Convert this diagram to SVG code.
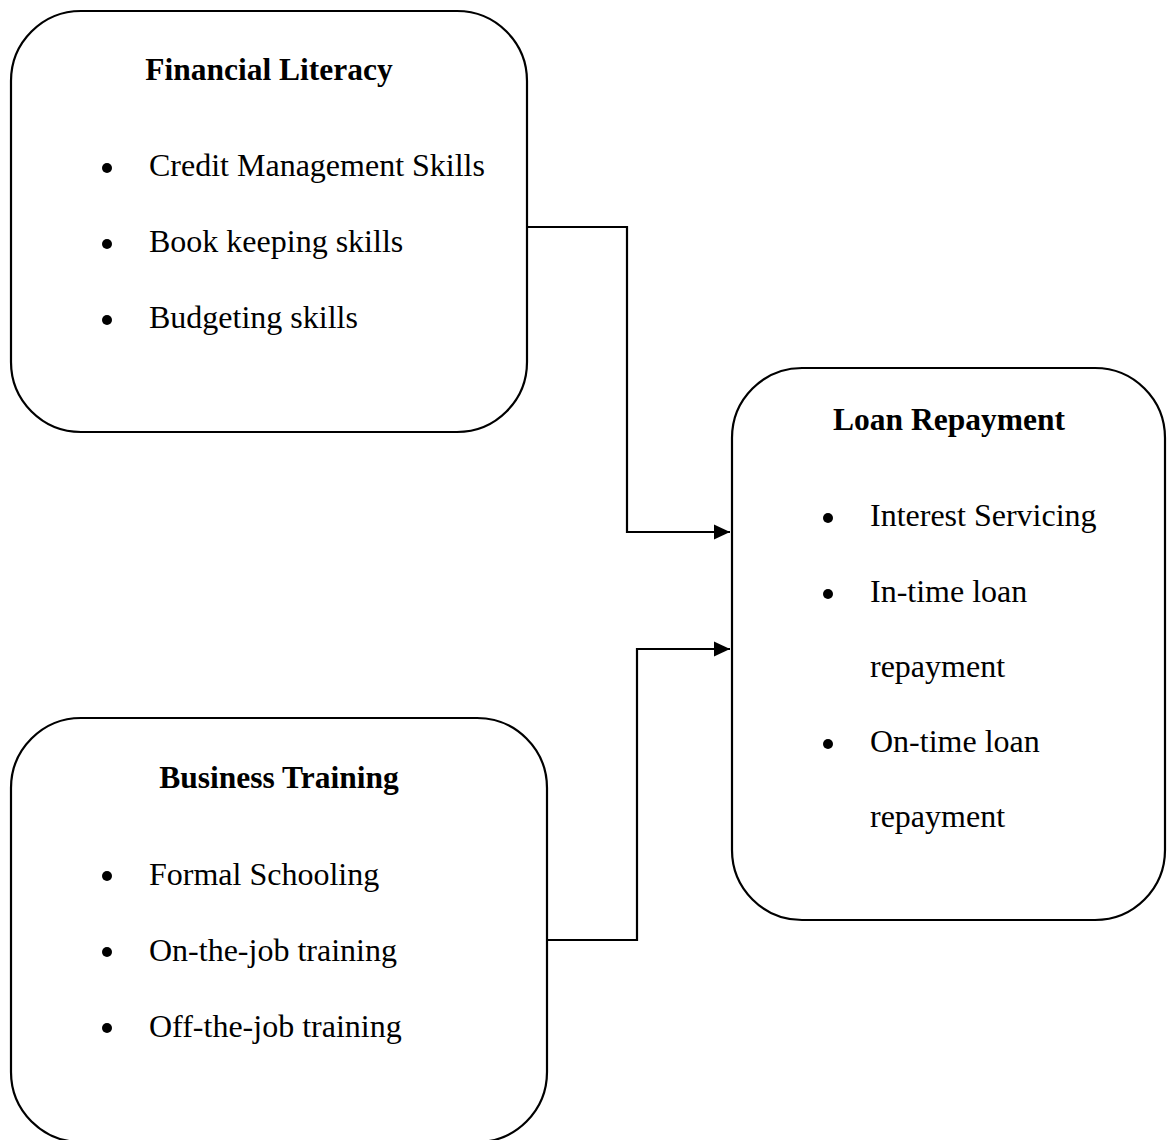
<svg xmlns="http://www.w3.org/2000/svg" width="1169" height="1140" viewBox="0 0 1169 1140">
<style>
.box{fill:#fff;stroke:#000;stroke-width:2.2}
.title{font-family:"Liberation Serif","Times New Roman",serif;font-weight:bold;font-size:31.5px;fill:#000;text-anchor:middle}
.item{font-family:"Liberation Serif","Times New Roman",serif;font-size:32px;fill:#000}
.bullet{fill:#000}
.conn{fill:none;stroke:#000;stroke-width:2.2}
</style>
<defs>
<marker id="arrow" markerUnits="userSpaceOnUse" markerWidth="16" markerHeight="16" viewBox="0 0 16 16" refX="16" refY="8" orient="auto">
<path d="M0,0.5 L16,8 L0,15.5 Z" fill="#000"/>
</marker>
</defs>
<rect width="1169" height="1140" fill="#fff"/>
<g id="connectors">
<polyline class="conn" points="527,227 627,227 627,532 730,532" marker-end="url(#arrow)"/>
<polyline class="conn" points="547,940 637,940 637,649 730,649" marker-end="url(#arrow)"/>
</g>
<g id="financial-literacy">
<rect class="box" x="11" y="11" width="516" height="421" rx="70" ry="70"/>
<text class="title" x="269" y="80">Financial Literacy</text>
<circle class="bullet" cx="107" cy="168" r="5"/>
<text class="item" x="149" y="176">Credit Management Skills</text>
<circle class="bullet" cx="107" cy="244" r="5"/>
<text class="item" x="149" y="252">Book keeping skills</text>
<circle class="bullet" cx="107" cy="320" r="5"/>
<text class="item" x="149" y="328">Budgeting skills</text>
</g>
<g id="business-training">
<rect class="box" x="11" y="718" width="536" height="424" rx="70" ry="70"/>
<text class="title" x="279" y="788">Business Training</text>
<circle class="bullet" cx="107" cy="876" r="5"/>
<text class="item" x="149" y="885">Formal Schooling</text>
<circle class="bullet" cx="107" cy="952" r="5"/>
<text class="item" x="149" y="961">On-the-job training</text>
<circle class="bullet" cx="107" cy="1028" r="5"/>
<text class="item" x="149" y="1037">Off-the-job training</text>
</g>
<g id="loan-repayment">
<rect class="box" x="732" y="368" width="433" height="552" rx="70" ry="70"/>
<text class="title" x="949" y="430">Loan Repayment</text>
<circle class="bullet" cx="828" cy="518" r="5"/>
<text class="item" x="870" y="526">Interest Servicing</text>
<circle class="bullet" cx="828" cy="594" r="5"/>
<text class="item" x="870" y="602">In-time loan</text>
<text class="item" x="870" y="677">repayment</text>
<circle class="bullet" cx="828" cy="744" r="5"/>
<text class="item" x="870" y="752">On-time loan</text>
<text class="item" x="870" y="827">repayment</text>
</g>
</svg>
